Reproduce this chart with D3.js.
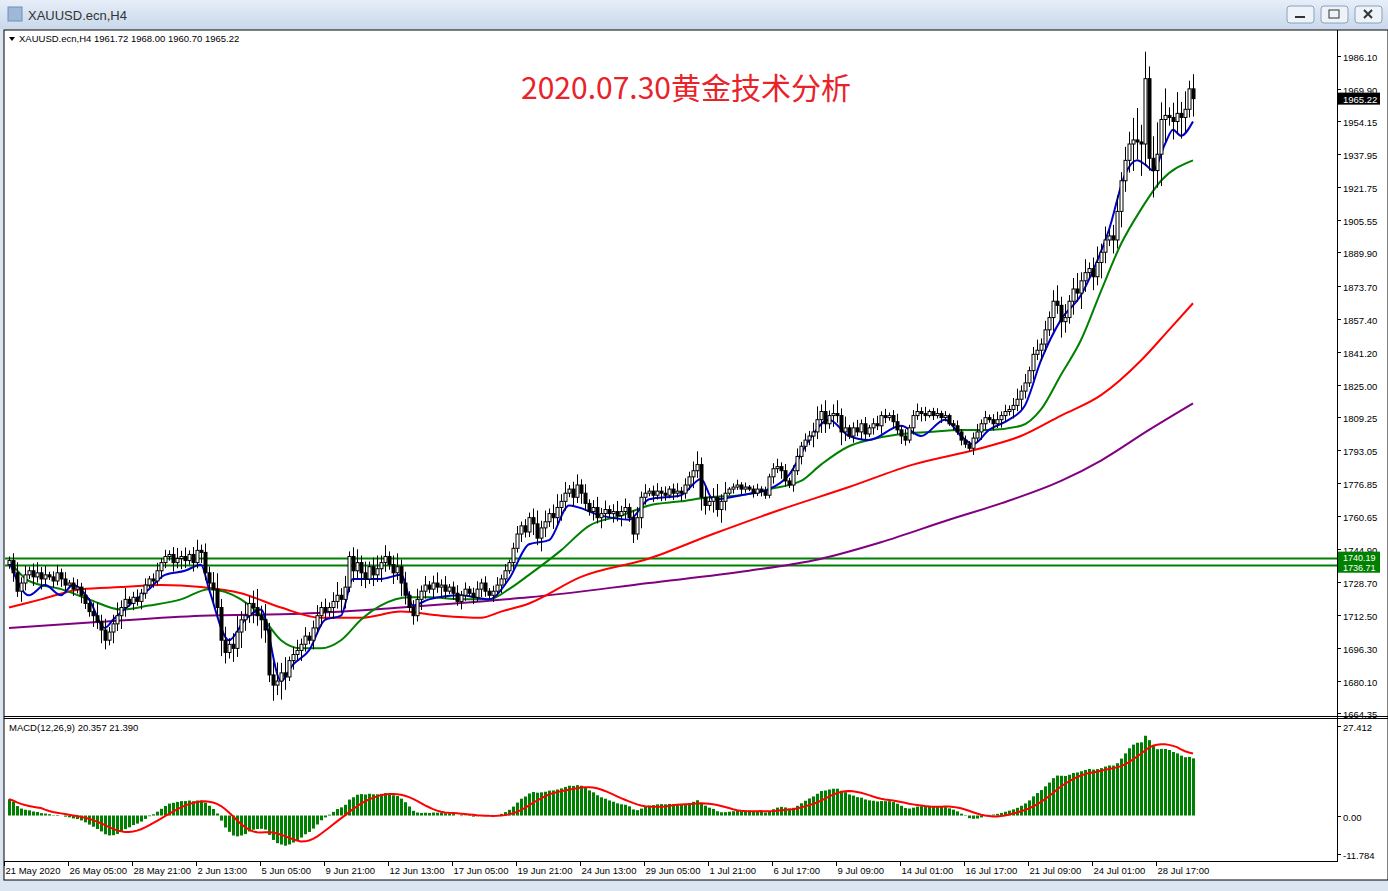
<!DOCTYPE html>
<html><head><meta charset="utf-8">
<script src="https://cdn.jsdelivr.net/npm/d3@7"></script>
<style>body{margin:0;background:#fff;overflow:hidden}svg{display:block}</style>
</head><body><svg id="c" width="1388" height="891"></svg>
<script>
const closes=[
1739,1733,1724,1728,1732,1734,1731,1733,1730,1732,
1731,1729,1733,1730,1727,1728,1725,1726,1722,1718,
1714,1712,1709,1705,1700,1704,1708,1712,1716,1720,
1718,1721,1719,1723,1727,1730,1729,1734,1738,1741,
1742,1738,1740,1741,1739,1742,1738,1744,1743,1733,
1728,1725,1716,1700,1694,1698,1696,1704,1710,1712,
1718,1716,1712,1710,1705,1683,1678,1680,1684,1682,
1690,1693,1695,1698,1702,1700,1706,1712,1716,1714,
1716,1719,1722,1720,1726,1741,1734,1738,1733,1730,
1736,1732,1735,1738,1741,1737,1733,1736,1728,1722,
1716,1712,1720,1724,1727,1725,1728,1726,1727,1724,
1726,1723,1719,1722,1725,1723,1721,1725,1728,1724,
1722,1724,1727,1730,1734,1738,1745,1752,1756,1753,
1760,1757,1750,1755,1758,1762,1760,1765,1768,1772,
1774,1770,1776,1772,1767,1763,1765,1760,1762,1764,
1762,1763,1761,1763,1765,1760,1752,1760,1770,1772,
1773,1771,1773,1772,1771,1774,1772,1773,1772,1776,
1780,1783,1786,1770,1766,1768,1770,1764,1768,1772,
1774,1775,1776,1774,1775,1774,1772,1774,1773,1771,
1780,1784,1785,1783,1778,1776,1783,1790,1795,1798,
1800,1802,1808,1812,1806,1810,1811,1810,1802,1804,
1800,1804,1802,1806,1801,1804,1806,1805,1810,1809,
1810,1807,1803,1800,1798,1804,1810,1812,1811,1810,
1812,1810,1811,1809,1810,1806,1805,1802,1798,1796,
1794,1799,1802,1806,1809,1808,1806,1808,1810,1812,
1813,1815,1818,1822,1826,1832,1840,1842,1845,1852,
1858,1866,1864,1856,1858,1866,1872,1870,1876,1880,
1882,1878,1885,1890,1896,1898,1896,1910,1925,1935,
1943,1945,1944,1943,1975,1936,1930,1938,1955,1957,
1956,1954,1958,1956,1960,1970,1965.22];
const firstOpen=1737;
const wickByGroup=[4,3,5,3,4,6,7,4,5,5,4,3,3,5,4,4,3,5,2,3,5,3,3,2,3,4,6,6,12,8];
const blueMA=[[0,1739],[5,1722],[9,1727],[13,1722],[16,1727],[20,1720],[24,1706],[26,1710],[30,1717],[35,1725],[39,1732],[44,1734],[48,1737],[50,1725],[55,1700],[59,1710],[63,1715],[68,1680],[71,1688],[75,1695],[79,1710],[83,1712],[86,1730],[93,1730],[98,1732],[101,1717],[105,1720],[113,1722],[120,1720],[125,1730],[130,1747],[135,1749],[140,1766],[148,1761],[155,1759],[160,1769],[168,1771],[173,1779],[176,1769],[183,1771],[190,1774],[195,1781],[200,1798],[205,1808],[210,1800],[215,1798],[223,1805],[228,1800],[234,1808],[238,1800],[241,1796],[245,1803],[250,1808],[254,1815],[258,1837],[263,1857],[268,1869],[271,1881],[275,1901],[279,1928],[282,1935],[284,1933],[286,1930],[289,1943],[291,1950],[293,1947],[296,1954]];
const greenMA=[[0,1739],[5,1729],[13,1725],[20,1720],[28,1715],[35,1717],[43,1720],[50,1725],[58,1720],[63,1712],[68,1700],[73,1696],[78,1696],[83,1700],[88,1710],[93,1717],[100,1721],[105,1721],[113,1720],[120,1720],[125,1725],[130,1732],[138,1744],[145,1756],[153,1761],[160,1766],[168,1768],[175,1770],[183,1771],[190,1774],[198,1778],[203,1786],[210,1795],[215,1798],[223,1801],[230,1802],[238,1803],[245,1803],[253,1805],[258,1813],[263,1830],[268,1847],[273,1871],[278,1894],[283,1911],[288,1925],[296,1935]];
const redMA=[[0,1716],[8,1720],[18,1725],[28,1726],[38,1727],[48,1726],[58,1723],[68,1716],[78,1711],[88,1711],[98,1714],[108,1712],[118,1711],[123,1714],[130,1718],[143,1731],[160,1740],[176,1752],[193,1764],[210,1775],[226,1786],[243,1794],[253,1800],[263,1810],[273,1820],[283,1837],[290,1852],[296,1865]];
const purpleMA=[[0,1706],[23,1709],[48,1712],[73,1713],[98,1716],[118,1719],[130,1721],[160,1728],[185,1734],[201,1739],[218,1748],[235,1759],[248,1767],[263,1778],[273,1788],[285,1803],[296,1816]];
const priceTicks=[1986.10,1969.90,1954.15,1937.95,1921.75,1905.55,1889.90,1873.70,1857.40,1841.20,1825.00,1809.25,1793.05,1776.85,1760.65,1744.90,1728.70,1712.50,1696.30,1680.10,1664.35];
const dateLabels=["21 May 2020","26 May 05:00","28 May 21:00","2 Jun 13:00","5 Jun 05:00","9 Jun 21:00","12 Jun 13:00","17 Jun 05:00","19 Jun 21:00","24 Jun 13:00","29 Jun 05:00","1 Jul 21:00","6 Jul 17:00","9 Jul 09:00","14 Jul 01:00","16 Jul 17:00","21 Jul 09:00","24 Jul 01:00","28 Jul 17:00"];
const hLines=[1740.19,1736.71];
const macdTicks=[27.412,0.00,-11.784];

const svg=d3.select("#c");
const F="'Liberation Sans', Arial, sans-serif";
const FS=9.5;
const g0=svg.append("defs").append("linearGradient").attr("id","tb").attr("x1",0).attr("y1",0).attr("x2",0).attr("y2",1);
g0.append("stop").attr("offset","0").attr("stop-color","#e6eef8");g0.append("stop").attr("offset","1").attr("stop-color","#c9d8ea");
svg.append("rect").attr("width",1388).attr("height",891).attr("fill","#dbe5f1");
svg.append("rect").attr("width",1388).attr("height",29).attr("fill","url(#tb)");
svg.append("rect").attr("x",8).attr("y",7).attr("width",14).attr("height",14).attr("fill","#9fb8d8").attr("stroke","#6d8fbf");
svg.append("text").attr("x",28).attr("y",20).attr("font-family",F).attr("font-size",13).attr("fill","#333").text("XAUUSD.ecn,H4");
[1300,1334,1368].forEach((x,i)=>{svg.append("rect").attr("x",x-13).attr("y",6).attr("width",27).attr("height",17).attr("rx",3).attr("fill","#eef3fa").attr("stroke","#8aa0bd");
 if(i==0)svg.append("line").attr("x1",x-5).attr("x2",x+5).attr("y1",17).attr("y2",17).attr("stroke","#333").attr("stroke-width",2);
 if(i==1)svg.append("rect").attr("x",x-5).attr("y",10).attr("width",10).attr("height",8).attr("fill","none").attr("stroke","#333");
 if(i==2){svg.append("path").attr("d",`M${x-4},10L${x+4},18M${x+4},10L${x-4},18`).attr("stroke","#333").attr("stroke-width",2);}
});
svg.append("rect").attr("x",4).attr("y",30).attr("width",1384).attr("height",850).attr("fill","#fff").attr("stroke","#000");
const pl=5,pr=1337;
svg.append("line").attr("x1",4).attr("x2",1388).attr("y1",716.5).attr("y2",716.5).attr("stroke","#000");
svg.append("line").attr("x1",4).attr("x2",1388).attr("y1",718.5).attr("y2",718.5).attr("stroke","#000");
svg.append("line").attr("x1",pr+.5).attr("x2",pr+.5).attr("y1",30).attr("y2",862).attr("stroke","#000");
svg.append("line").attr("x1",4).attr("x2",pr).attr("y1",861.5).attr("y2",861.5).attr("stroke","#000");

const x=d3.scaleLinear().domain([0,296]).range([9,1193]);
const y=d3.scaleLinear().domain([1664.35,1986.10]).range([713,56]);
const ym=d3.scaleLinear().domain([-11.784,27.412]).range([854,726]);

hLines.forEach(v=>svg.append("line").attr("x1",pl).attr("x2",pr).attr("y1",Math.round(y(v))+.5).attr("y2",Math.round(y(v))+.5).attr("stroke","#008000").attr("stroke-width",2));

const line=d3.line().x(d=>x(d[0])).y(d=>y(d[1])).curve(d3.curveMonotoneX);
[[purpleMA,"#800080"],[redMA,"#ff0000"],[greenMA,"#008000"],[blueMA,"#0000cc"]].forEach(([d,c])=>
 svg.append("path").attr("d",line(d)).attr("fill","none").attr("stroke",c).attr("stroke-width",2));

const gC=svg.append("g");
closes.forEach((c,i)=>{
 const o=i==0?firstOpen:closes[i-1];
 const w=wickByGroup[Math.floor(i/10)];
 const hi=Math.max(o,c)+w*(0.5+((i*7)%5)/5), lo=Math.min(o,c)-w*(0.5+((i*3)%5)/5);
 const cx=Math.round(x(i))+.5;
 gC.append("line").attr("x1",cx).attr("x2",cx).attr("y1",y(hi)).attr("y2",y(lo)).attr("stroke","#000");
 const top=y(Math.max(o,c)),bot=y(Math.min(o,c));
 gC.append("rect").attr("x",cx-1.5).attr("y",top).attr("width",3).attr("height",Math.max(1,bot-top)).attr("fill",c>=o?"#fff":"#000").attr("stroke","#000").attr("stroke-width",1);
});

priceTicks.forEach(v=>{const yy=Math.round(y(v))+.5;
 svg.append("line").attr("x1",pr).attr("x2",pr+4).attr("y1",yy).attr("y2",yy).attr("stroke","#000");
 svg.append("text").attr("x",1343).attr("y",yy+4).attr("font-family",F).attr("font-size",FS).attr("fill","#000").text(v.toFixed(2));});
hLines.forEach((v,i)=>{const yy=y(v)+(i==0?-1:2);svg.append("rect").attr("x",pr+1).attr("y",yy-5.5).attr("width",42).attr("height",11).attr("fill","#008000");
 svg.append("text").attr("x",1343).attr("y",yy+3.5).attr("font-family",F).attr("font-size",FS-0.5).attr("fill","#fff").text(v.toFixed(2));});
const last=closes[closes.length-1];
svg.append("rect").attr("x",pr+1).attr("y",y(last)-6).attr("width",42).attr("height",12).attr("fill","#000");
svg.append("text").attr("x",1343).attr("y",y(last)+4).attr("font-family",F).attr("font-size",FS).attr("fill","#fff").text(last.toFixed(2));

svg.append("path").attr("d","M9,37L15,37L12,41Z").attr("fill","#000");
svg.append("text").attr("x",19).attr("y",42).attr("font-family",F).attr("font-size",FS).text("XAUUSD.ecn,H4  1961.72 1968.00 1960.70 1965.22");
svg.append("text").attr("x",686).attr("y",99).attr("text-anchor","middle").attr("font-family","'Noto Sans CJK SC', sans-serif").attr("font-size",30).attr("fill","#e8232a").text("2020.07.30黄金技术分析");

const ema=(arr,n)=>{const k=2/(n+1);let e=arr[0];return arr.map(v=>e=v*k+e*(1-k));};
const e12=ema(closes,12),e26=ema(closes,26);
const macd=e12.map((v,i)=>(v-e26[i])*0.85+5*Math.exp(-i/12));
const sig=macd.map((v,i)=>d3.mean(macd.slice(Math.max(0,i-8),i+1)));
macd.forEach((v,i)=>{const a=ym(0),b=ym(v);
 svg.append("rect").attr("x",Math.round(x(i))-1).attr("y",Math.min(a,b)).attr("width",3).attr("height",Math.abs(a-b)).attr("fill","#008000");});
svg.append("path").attr("d",d3.line().x((d,i)=>x(i)).y(d=>ym(d))(sig)).attr("fill","none").attr("stroke","#ff0000").attr("stroke-width",2);
svg.append("text").attr("x",9).attr("y",731).attr("font-family",F).attr("font-size",FS).text("MACD(12,26,9) 20.357 21.390");
macdTicks.forEach(v=>{const yy=Math.round(ym(v))+.5;
 svg.append("line").attr("x1",pr).attr("x2",pr+4).attr("y1",yy).attr("y2",yy).attr("stroke","#000");
 svg.append("text").attr("x",1343).attr("y",yy+4).attr("font-family",F).attr("font-size",FS).text(v.toFixed(v===0?2:3));});

dateLabels.forEach((t,k)=>{const xx=Math.round(x(k*16))-4.5;
 svg.append("line").attr("x1",xx).attr("x2",xx).attr("y1",862).attr("y2",866).attr("stroke","#000");
 svg.append("text").attr("x",xx+1).attr("y",874).attr("font-family",F).attr("font-size",FS).text(t);});
</script></body></html>
